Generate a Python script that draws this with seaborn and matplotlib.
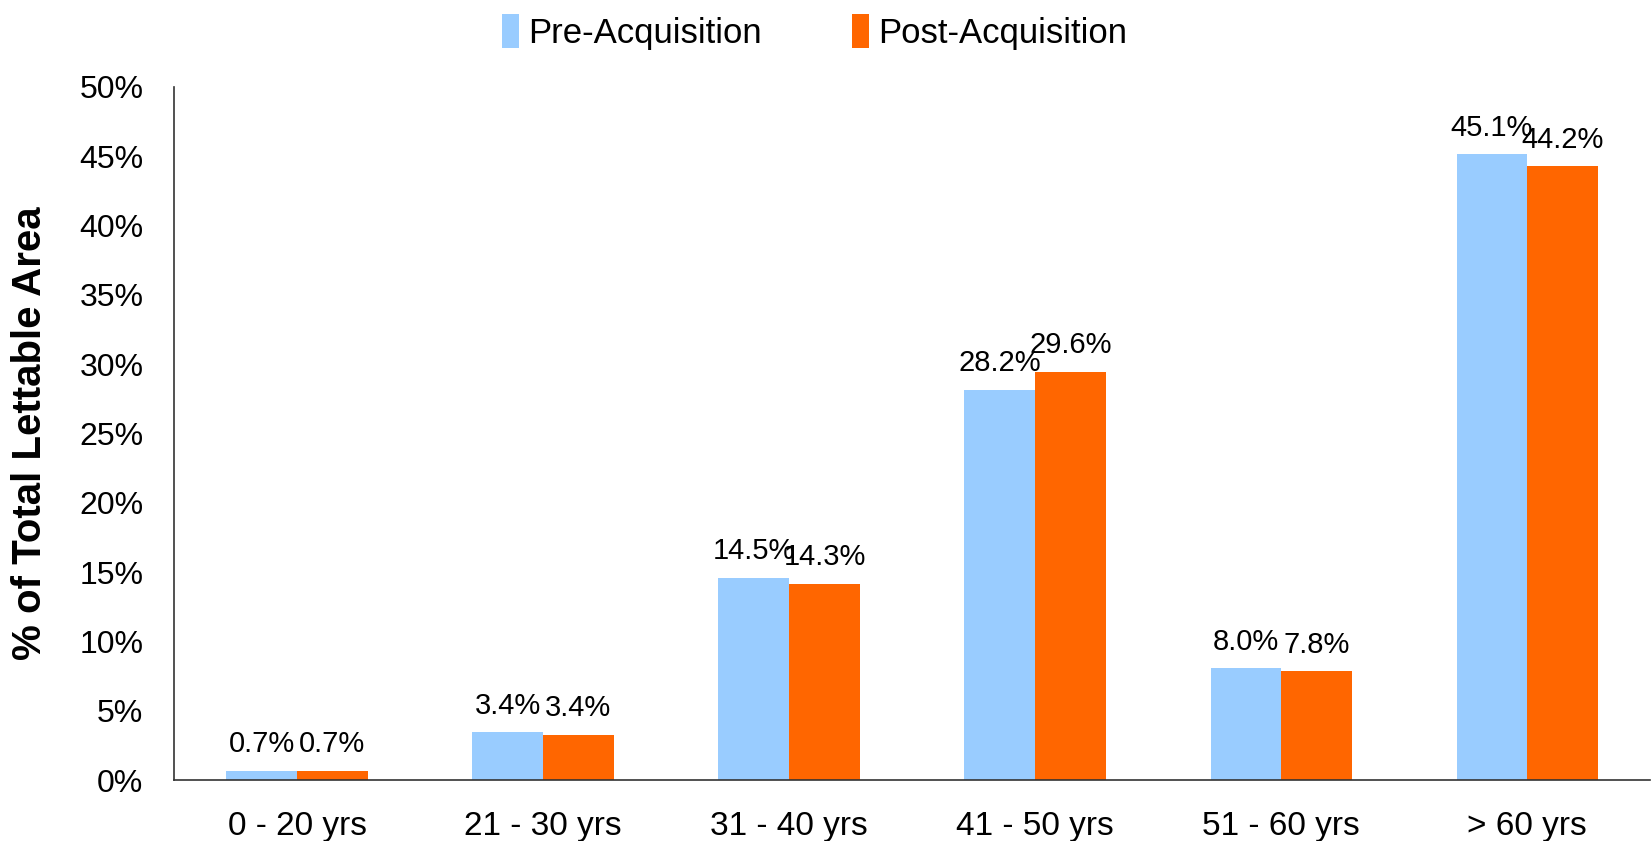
import matplotlib
matplotlib.use("Agg")
import matplotlib.pyplot as plt
import seaborn as sns
import pandas as pd
from matplotlib.ticker import FixedLocator, FuncFormatter

categories = ["0 - 20 yrs", "21 - 30 yrs", "31 - 40 yrs", "41 - 50 yrs", "51 - 60 yrs", "> 60 yrs"]
series_names = ["Pre-Acquisition", "Post-Acquisition"]
pre_values = [0.65, 3.45, 14.6, 28.15, 8.05, 45.15]
post_values = [0.65, 3.25, 14.15, 29.45, 7.85, 44.3]
pre_labels = ["0.7%", "3.4%", "14.5%", "28.2%", "8.0%", "45.1%"]
post_labels = ["0.7%", "3.4%", "14.3%", "29.6%", "7.8%", "44.2%"]
y_ticks = [0, 5, 10, 15, 20, 25, 30, 35, 40, 45, 50]
colors = ["#99CCFF", "#FF6600"]

df = pd.DataFrame({
    "category": categories * 2,
    "series": [series_names[0]] * len(categories) + [series_names[1]] * len(categories),
    "value": pre_values + post_values,
})

sns.set_theme(style="white")
plt.rcParams["font.family"] = ["Liberation Sans", "DejaVu Sans"]
plt.rcParams["text.color"] = "black"
plt.rcParams["xtick.color"] = "black"
plt.rcParams["ytick.color"] = "black"
plt.rcParams["axes.labelcolor"] = "black"

fig = plt.figure(figsize=(16.52, 8.41), dpi=100)
ax = fig.add_axes([174 / 1652, 1 - 780 / 841, 1 - 174 / 1652 - 0.001, (780 - 87) / 841])

sns.barplot(data=df, x="category", y="value", hue="series", order=categories,
            hue_order=series_names, palette=colors, width=0.575, saturation=1,
            edgecolor="none", linewidth=0, ax=ax, legend=True)

ax.set_xlim(-0.5, len(categories) - 0.5)
ax.set_ylim(0, 50)
ax.yaxis.set_major_locator(FixedLocator(y_ticks))
ax.yaxis.set_major_formatter(FuncFormatter(lambda v, p: f"{v:.0f}%"))
ax.set_xlabel("")
ax.set_ylabel("% of Total Lettable Area", fontsize=29, fontweight="bold", labelpad=22)

# category separators as minor ticks on the x axis
ax.set_xticks([i - 0.5 for i in range(len(categories) + 1)], minor=True)
ax.tick_params(axis="x", which="minor", length=10, width=1, color="#555555", direction="out")
ax.tick_params(axis="x", which="major", length=0, pad=22, labelsize=24)
ax.tick_params(axis="y", which="major", length=10, width=1, color="#555555", direction="out",
               pad=12, labelsize=23)

for side in ["top", "right"]:
    ax.spines[side].set_visible(False)
for side in ["left", "bottom"]:
    ax.spines[side].set_color("#333333")
    ax.spines[side].set_linewidth(1.2)

for cont, labs in zip(ax.containers, [pre_labels, post_labels]):
    ax.bar_label(cont, labels=labs, padding=9, fontsize=21)

handles, labels = ax.get_legend_handles_labels()
ax.get_legend().remove()
fig.legend(handles, labels, loc="upper center", bbox_to_anchor=(0.493, 1.02), ncol=2,
           frameon=False, fontsize=25, handlelength=0.5, handleheight=1.1,
           handletextpad=0.25, columnspacing=2.6)

fig.savefig("out.png", dpi=100)
